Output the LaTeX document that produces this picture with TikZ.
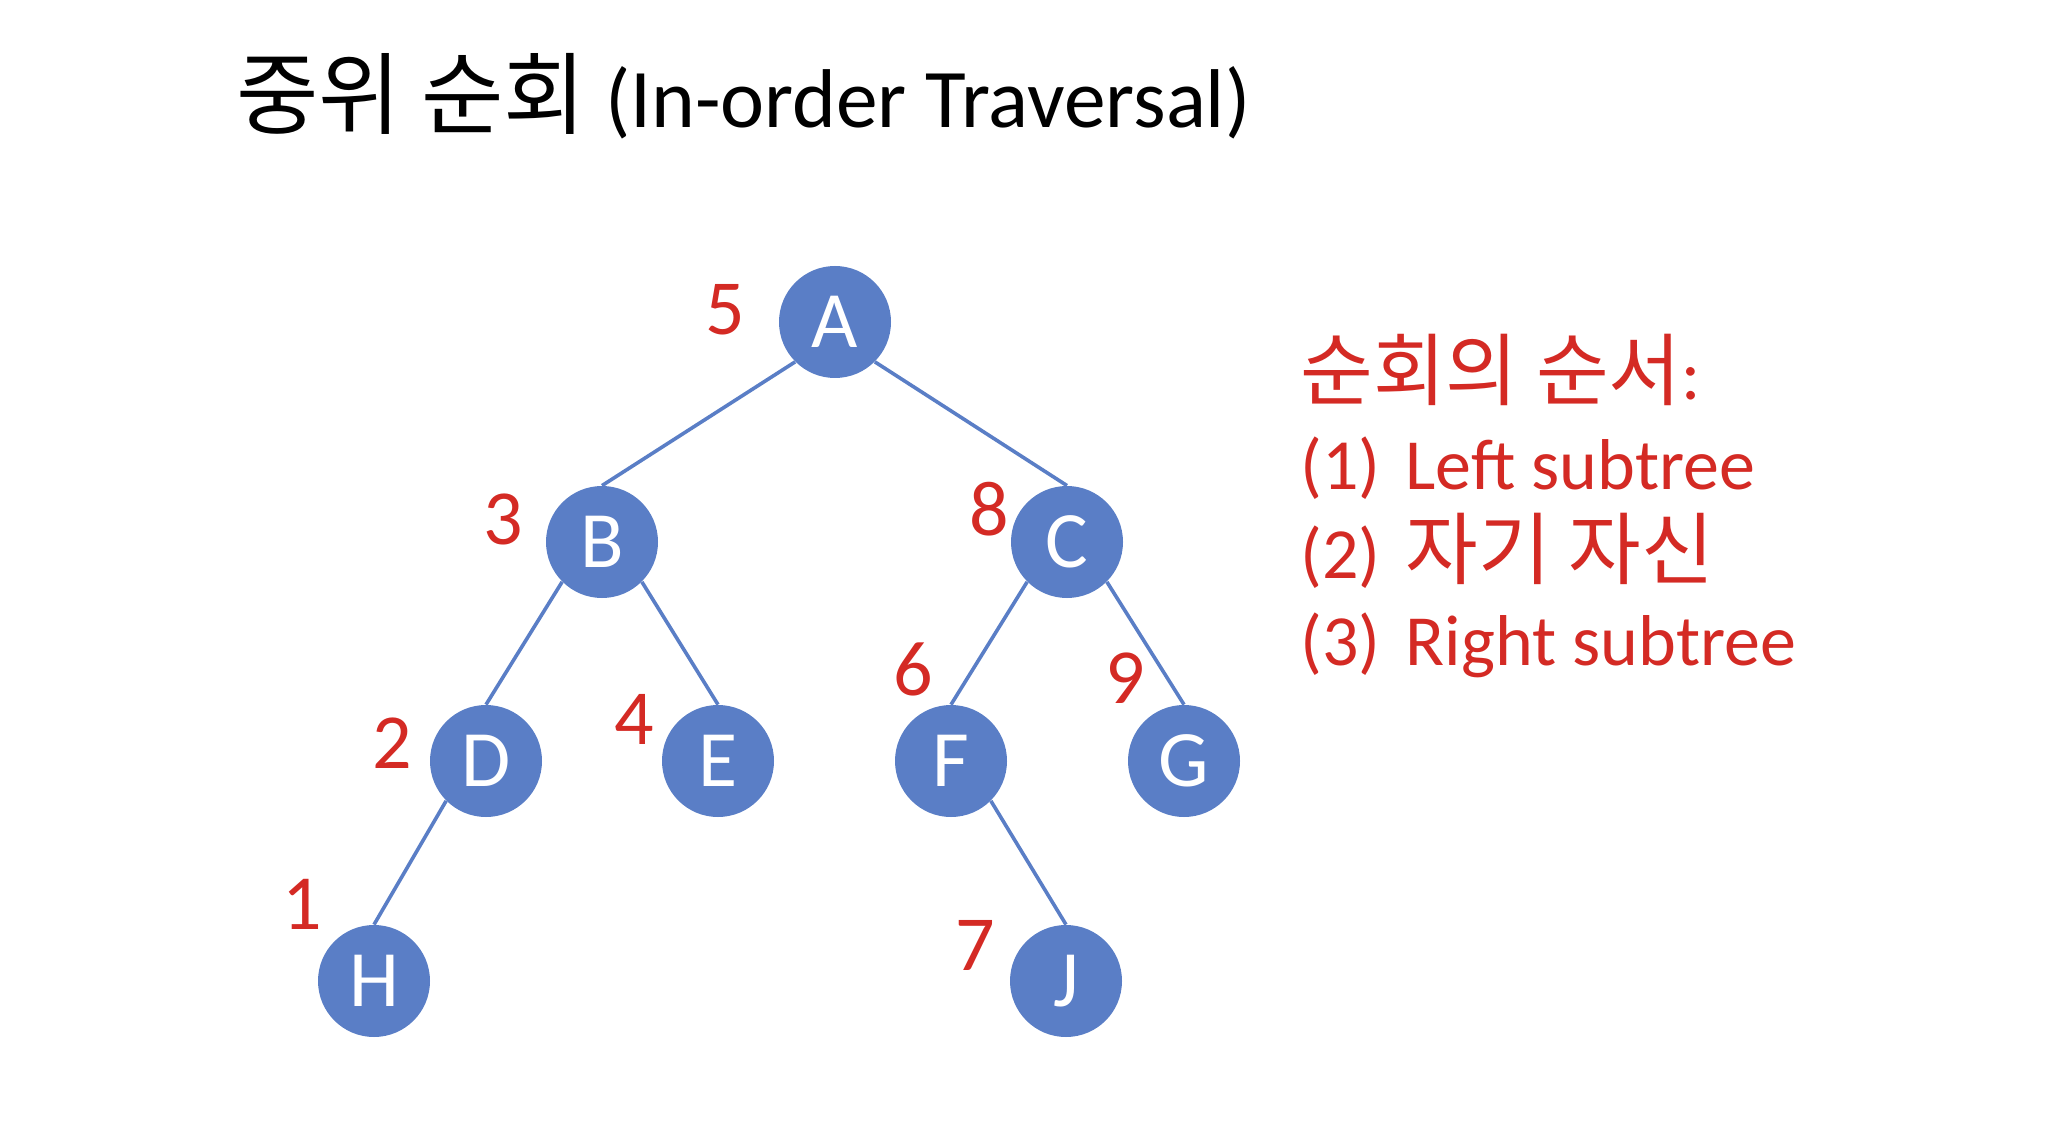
\documentclass[tikz,border=0pt]{standalone}
\usepackage{fontspec}
\setmainfont{Carlito}
\newfontfamily\kr{Noto Sans CJK KR}
\definecolor{nodeblue}{RGB}{90,126,198}
\definecolor{numred}{RGB}{212,42,36}
\begin{document}
\begin{tikzpicture}[x=0.5pt,y=-0.5pt,
  tnode/.style={circle,fill=nodeblue,minimum size=56pt,inner sep=0pt,text=white,font=\fontsize{40}{40}\selectfont},
  edge/.style={draw=nodeblue,line width=1.8pt},
  num/.style={text=numred,font=\fontsize{39}{39}\selectfont,inner sep=0pt},
  rtext/.style={text=numred,font=\fontsize{36}{36}\selectfont,anchor=base west,inner sep=0pt}]
\useasboundingbox[fill=white] (0,0) rectangle (2072,1128);
% title
\node[anchor=base west,inner sep=0pt,font=\fontsize{41.7}{42}\selectfont] (title) at (236,128) {{\kr\fontsize{44.8}{45}\selectfont 중위 순회} (In-order Traversal)};
% nodes
\node[tnode] (A) at (835,322) {A};
\node[tnode] (B) at (602,542) {B};
\node[tnode] (C) at (1067,542) {C};
\node[tnode] (D) at (486,761) {D};
\node[tnode] (E) at (718,761) {E};
\node[tnode] (F) at (951,761) {F};
\node[tnode] (G) at (1184,761) {G};
\node[tnode] (H) at (374,981) {H};
\node[tnode] (J) at (1066,981) {J};
% edges
\draw[edge] (A.south west) -- (B.north);
\draw[edge] (A.south east) -- (C.north);
\draw[edge] (B.south west) -- (D.north);
\draw[edge] (B.south east) -- (E.north);
\draw[edge] (C.south west) -- (F.north);
\draw[edge] (C.south east) -- (G.north);
\draw[edge] (D.south west) -- (H.north);
\draw[edge] (F.south east) -- (J.north);
% numbers
\node[num] (n5) at (725,310) {5};
\node[num] (n3) at (503,519) {3};
\node[num] (n8) at (989,509) {8};
\node[num] (n2) at (392,743) {2};
\node[num] (n4) at (634,719) {4};
\node[num] (n6) at (913,669) {6};
\node[num] (n9) at (1125,678) {9};
\node[num] (n1) at (302,904) {1};
\node[num] (n7) at (975,945) {7};
% right text
\node[rtext] (r0) at (1300,400) {{\kr\fontsize{39.5}{40}\selectfont 순회의 순서}:};
\node[rtext] (r1) at (1300,489) {(1)\hspace{0.35em}Left subtree};
\node[rtext] (r2) at (1300,578) {(2)\hspace{0.35em}{\kr\fontsize{39.5}{40}\selectfont 자기 자신}};
\node[rtext] (r3) at (1300,665) {(3)\hspace{0.35em}Right subtree};
\end{tikzpicture}
\end{document}
